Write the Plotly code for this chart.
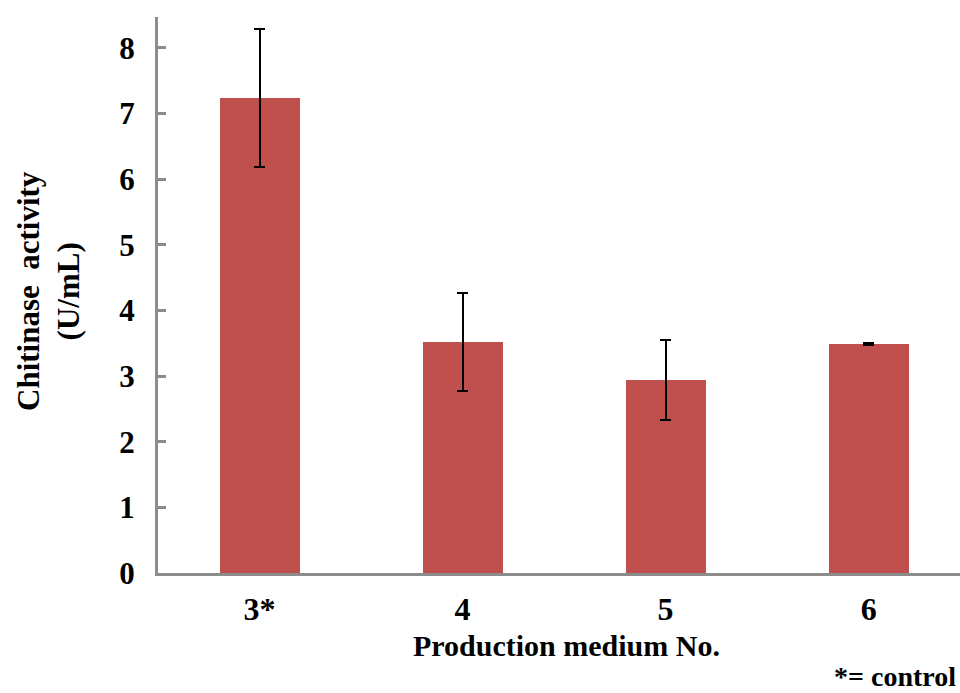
import plotly.graph_objects as go

# Chitinase activity per production medium
categories = ["3*", "4", "5", "6"]
activity = [7.23, 3.52, 2.94, 3.49]
activity_err = [1.05, 0.75, 0.61, 0.01]
y_ticks = [0, 1, 2, 3, 4, 5, 6, 7, 8]

FONT = "Liberation Serif"
AXIS_GREY = "#8c8c8c"

fig = go.Figure()
fig.add_trace(go.Bar(
    x=categories,
    y=activity,
    width=0.394,
    marker=dict(color="#C0504D", line=dict(color="#C0504D", width=0)),
    error_y=dict(type="data", array=activity_err, visible=True,
                 color="black", thickness=2, width=5.5),
    showlegend=False,
))

fig.update_layout(
    width=960, height=693,
    margin=dict(l=158, r=0, t=17, b=120),
    paper_bgcolor="white", plot_bgcolor="white",
    bargap=0,
    font=dict(family=FONT, color="black"),
    xaxis=dict(
        type="category",
        range=[-0.5, 3.45],
        showline=True, linecolor=AXIS_GREY, linewidth=3,
        ticks="", showgrid=False, zeroline=False,
        tickfont=dict(family=FONT, size=32, color="black", weight="bold"),
        ticklabelstandoff=6,
    ),
    yaxis=dict(
        range=[0, 8.47],
        tickvals=y_ticks,
        showline=True, linecolor=AXIS_GREY, linewidth=3,
        ticks="inside", ticklen=8, tickwidth=3, tickcolor=AXIS_GREY,
        showgrid=False, zeroline=False,
        tickfont=dict(family=FONT, size=31, color="black", weight="bold"),
        ticklabelstandoff=14,
    ),
    annotations=[
        dict(text="Chitinase  activity<br>(U/mL)", x=48, y=291,
             showarrow=False, textangle=-90,
             font=dict(family=FONT, size=31, color="black", weight="bold"),
             xanchor="center", yanchor="middle"),
        dict(text="Production medium No.", x=566, y=645,
             showarrow=False,
             font=dict(family=FONT, size=30, color="black", weight="bold"),
             xanchor="center", yanchor="middle"),
        dict(text="*= control", x=958, y=676,
             showarrow=False,
             font=dict(family=FONT, size=28, color="black", weight="bold"),
             xanchor="right", yanchor="middle"),
    ],
)

# Place free text in pixel coordinates of the page
for ann in fig.layout.annotations:
    ann.xref = "paper"
    ann.yref = "paper"
    ann.x = (ann.x - 158) / (960 - 158)
    ann.y = (693 - 120 - ann.y) / (693 - 120 - 17)

fig.write_html("out.html")
